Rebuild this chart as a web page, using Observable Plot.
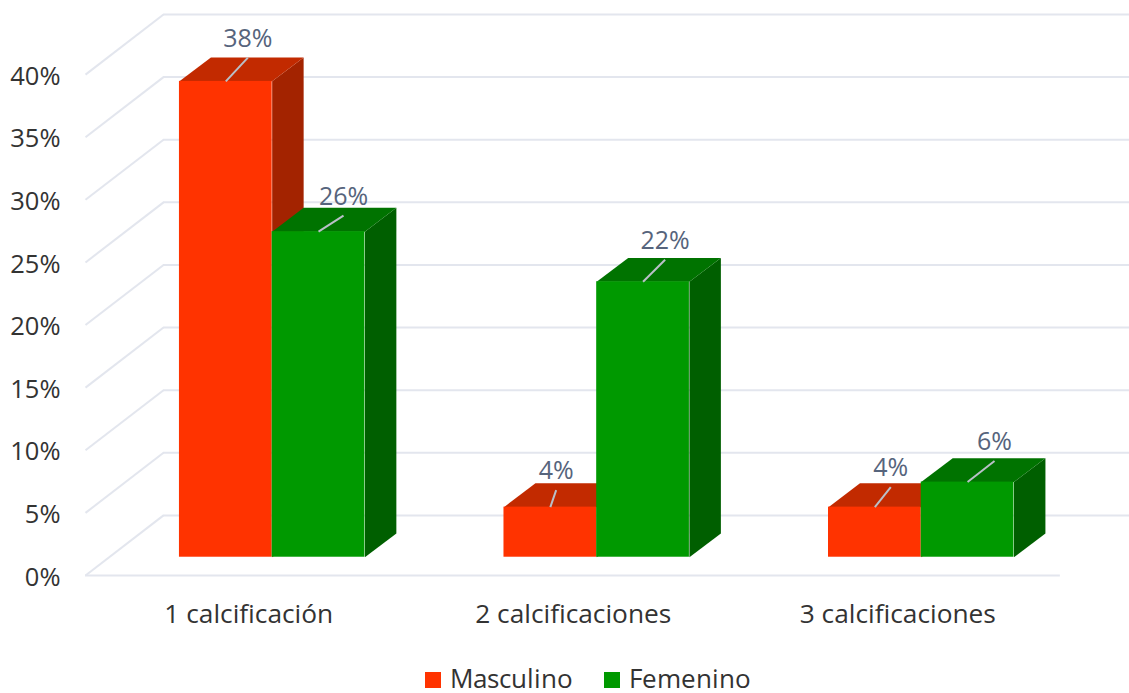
<!DOCTYPE html>
<html lang="es">
<head>
<meta charset="utf-8">
<script src="https://cdn.jsdelivr.net/npm/d3@7"></script>
<script src="https://cdn.jsdelivr.net/npm/@observablehq/plot@0.6"></script>
<style>
  /* Open Sans with tighter line metrics, so the legend fits the last row of the page */
  @font-face {
    font-family: "Legend Sans";
    src: local("Open Sans");
    ascent-override: 80%;
    descent-override: 20%;
    line-gap-override: 0%;
  }
  html, body { margin: 0; padding: 0; background: #fff; overflow: hidden; }
  svg { display: block; }
  #legend {
    height: 33px; box-sizing: border-box; padding-left: 46px;
    display: flex; justify-content: center; align-items: flex-end; gap: 31px;
    font: 26px "Legend Sans", "Open Sans", sans-serif; color: #333; line-height: 26px;
  }
  #legend span { display: inline-flex; align-items: center; }
  #legend i { width: 16px; height: 16px; margin-right: 9px; display: inline-block; }
</style>
</head>
<body>
<div id="chart"></div>
<div id="legend"></div>
<script>
// Percentage of cases by number of calcifications and sex
const categories = ["1 calcificación", "2 calcificaciones", "3 calcificaciones"];
const masculino = [38, 4, 4];
const femenino = [26, 22, 6];
const yTicks = [0, 5, 10, 15, 20, 25, 30, 35, 40];

// Where each value label's leader line ends, relative to the middle of the bar's top edge
const maleShift = [0.068, 0.018, 0.049];
const maleLift = [1.9, 1.36, 1.6];
const femaleShift = [0.077, 0.068, 0.083];
const femaleLift = [1.28, 1.76, 1.68];

// Pseudo-3D box model, in scale units (x: one category = 1, y: percentage points)
const wallDx = 0.2404, wallDy = 4.8;
const depthDx = 0.097, depthDy = 1.9;
const floorLift = 1.46;
const barWidth = 0.2857, barStart = -0.2105;
const axisStart = -0.5, axisEnd = 2.504;

const series = [
  {name: "Masculino", values: masculino, shift: maleShift, lift: maleLift, slot: 0,
   front: "#ff3300", top: "#c22a00", side: "#a32300"},
  {name: "Femenino", values: femenino, shift: femaleShift, lift: femaleLift, slot: 1,
   front: "#009900", top: "#007300", side: "#005f00"}
];

const boxes = s => s.values.map((v, i) => {
  const x1 = i + barStart + s.slot * barWidth, x2 = x1 + barWidth;
  return {i, v, x1, x2, y1: floorLift, y2: floorLift + v};
});

// Each face is a closed polygon, drawn as a filled line grouped by z
const topFace = b => [
  [b.x1, b.y2], [b.x1 + depthDx, b.y2 + depthDy], [b.x2 + depthDx, b.y2 + depthDy], [b.x2, b.y2]
].map(([x, y]) => ({x, y, z: b.i}));
const sideFace = b => [
  [b.x2, b.y1], [b.x2 + depthDx, b.y1 + depthDy], [b.x2 + depthDx, b.y2 + depthDy], [b.x2, b.y2]
].map(([x, y]) => ({x, y, z: b.i}));

const barMarks = series.flatMap(s => {
  const bs = boxes(s);
  return [
    Plot.line(bs.flatMap(sideFace), {x: "x", y: "y", z: "z", fill: s.side, stroke: "none"}),
    Plot.line(bs.flatMap(topFace), {x: "x", y: "y", z: "z", fill: s.top, stroke: "none"}),
    Plot.rect(bs, {x1: "x1", x2: "x2", y1: "y1", y2: "y2", fill: s.front})
  ];
});

const labelRows = series.flatMap(s => boxes(s).map(b => {
  const cx = (b.x1 + b.x2) / 2;
  return {x1: cx, y1: b.y2, x2: cx + s.shift[b.i], y2: b.y2 + s.lift[b.i], text: `${b.v}%`};
}));

const gridColor = "#e3e6ee";
const font = '"Open Sans", sans-serif';

const chart = Plot.plot({
  width: 1129, height: 660,
  marginLeft: 85, marginRight: 0, marginTop: 14, marginBottom: 85,
  style: {fontFamily: font, background: "#fff"},
  x: {domain: [axisStart, 2.717], axis: null},
  y: {domain: [0, 44.8], axis: null},
  marks: [
    // Back wall, left wall and floor
    Plot.ruleY(yTicks, {y: d => d + wallDy, x1: axisStart + wallDx, x2: 2.717, stroke: gridColor, strokeWidth: 2}),
    Plot.link(yTicks, {x1: axisStart, y1: d => d, x2: axisStart + wallDx, y2: d => d + wallDy, stroke: gridColor, strokeWidth: 2}),
    Plot.ruleY([0], {x1: axisStart, x2: axisEnd, stroke: gridColor, strokeWidth: 2}),
    ...barMarks,
    // Leader lines and value labels
    Plot.link(labelRows, {x1: "x1", y1: "y1", x2: "x2", y2: "y2", stroke: "#b9c0c8", strokeWidth: 2}),
    Plot.text(labelRows, {x: "x2", y: "y2", text: "text", dy: -19, fontSize: 25, fill: "#56647c"}),
    // Axes
    Plot.axisY(yTicks, {
      anchor: "left", tickSize: 0, tickPadding: 25, fontSize: 25.5, dy: 2,
      tickFormat: d => `${d}%`, fill: "#333", label: null
    }),
    Plot.axisX([0, 1, 2], {
      anchor: "bottom", tickSize: 0, tickPadding: 29, fontSize: 26.3, dx: 1,
      tickFormat: i => categories[i], fill: "#333", label: null
    })
  ]
});
document.getElementById("chart").append(chart);

// Legend under the chart
const legend = d3.select("#legend");
series.forEach(s => {
  const item = legend.append("span");
  item.append("i").style("background", s.front);
  item.append("span").text(s.name);
});
</script>
</body>
</html>
